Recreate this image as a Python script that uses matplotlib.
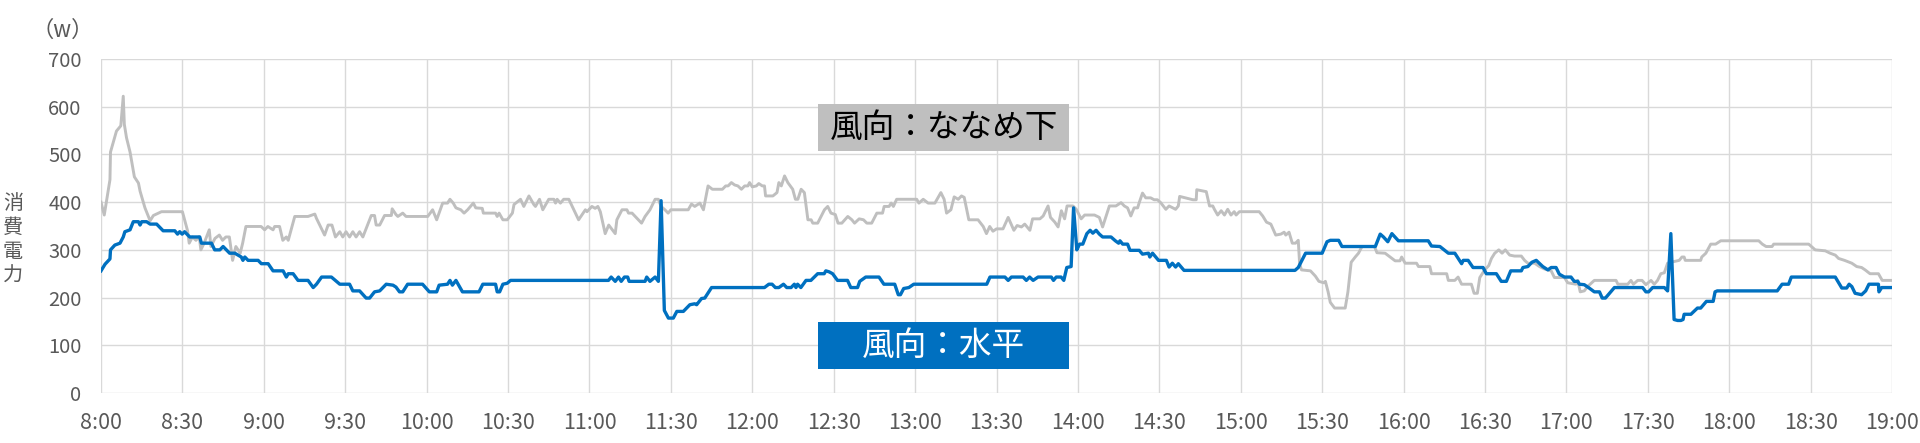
import matplotlib
matplotlib.use("Agg")
import matplotlib.pyplot as plt
from matplotlib.patches import Rectangle

plt.rcParams['font.family'] = ['Noto Sans CJK JP', 'DejaVu Sans']

# minutes after 8:00, power (W)
gray_t = [0, 1.2, 3.3, 3.5, 5.7, 7.3, 8.2, 8.6, 9.4, 10.7, 12.3, 13.8, 14.4, 16.2, 18.1, 19.3, 22.3, 30,
          31.9, 32.5, 33.7, 35, 36.2, 36.8, 38, 39.9, 40.5, 42, 43.6, 44.8, 46, 47.3, 48.5, 49.7, 51.3,
          52.2, 53.4, 59, 60.3, 61.5, 63.4, 64, 65.8, 67, 68.3, 69, 71.4, 76.3, 78.8, 79.4, 82.4, 83.7,
          85.1, 86.4, 88, 89.1, 90.3, 91.6, 92.8, 94, 95.3, 96.5, 99.6, 100.8, 101.4, 102.7, 104.5, 107,
          107.3,
          108.7, 109.4, 111.2, 112.4, 120.4, 122.2, 123.7, 125.9, 127.7, 128.6, 129.8, 130.8, 132.6, 133.8,
          135.1, 137.2, 138.1, 140.5, 140.9, 145.4, 146, 146.7, 148.1, 149.7, 151.6, 152.2, 154.6, 155.8,
          157.7, 159.5, 160.1, 161.6, 162.8, 165, 166.9, 167.5, 168.1, 169.3, 170.5, 172.4, 176, 178.5,
          179.1, 180.9, 182.1, 183.1, 184, 185.8, 187.1, 189.5, 190.1, 192, 193.8, 194.4, 195.7, 199.2,
          200.5, 202.3, 204.2, 205.4, 206.4, 207.8, 209, 210, 216.4, 217.6, 218.8,
          220.7, 222, 223.7, 225.3, 229, 230.2, 231.1, 232.3, 233.5, 234.7, 236, 237.2, 238.4, 239, 240,
          241.5, 242.4, 243.7, 244.5, 244.9, 247.6, 249.1, 249.8, 250.7, 251.9, 253.1, 254.9, 255.9, 256.8,
          258, 259.2, 260.5, 261.7, 262.3, 264.1, 266.6, 267.8, 269, 270.6, 271.6, 273, 275.2, 276.7,
          277.7, 279.4, 281, 282.2, 284, 285.9, 288, 288.6, 290.4, 291.2, 292, 293.2, 298.7, 300.6, 301.4,
          303, 304.8, 307.3, 309.5, 310.7, 311.6, 313.2, 314.4, 315.9, 317.1, 318.1, 319.8, 323.2, 325.1,
          326.3, 327.5, 328.7,
          330, 332.4, 334.3, 336.4, 337.6, 339.2, 340.4, 342.3, 343.3, 346, 347.2, 349, 349.9, 351.5,
          352.7, 353.9, 355.1, 356, 358.2, 359.4, 361.2, 362.5, 366.1, 367.9, 369.1, 370.4, 371.6, 374,
          375.9, 377.1, 378.3, 379.5, 380.7, 382, 382.6, 383.8, 385, 386.8, 388.1, 389.3, 390.5, 392.4,
          393.6, 396, 397, 397.5, 402.4, 403.6, 403.8, 407.3, 408.5, 409.7, 410.3, 411.5, 412.8, 414,
          415.2, 416.4, 417.6, 418.3, 419.5, 426.8, 428.1, 429.5, 431.1, 432.9, 434.8, 436, 436.6, 437.8,
          439,
          440.2, 441.2, 441.7, 442.4, 445.7, 447.5, 448.8, 450.6, 451.2, 452.2, 453, 454.6, 458.5, 459.5,
          460.7, 462.2, 463.4, 464.7, 469.3, 470.2, 473.2, 475.7, 476.9, 478.7, 479.3, 480.6, 484.8, 485.5,
          489.7, 490.3, 495.9, 496.5, 498.9, 500.1, 501.4, 505, 506, 507.2, 508.1, 509.9, 511.4, 512.4,
          513.6, 515.1, 516.3, 517.5, 519.1, 520.9, 523.4, 524.6, 525.8, 528.3, 530.1, 531.9, 534.4, 535.6,
          539.3, 540.5, 543.5, 544.2, 545.1, 546.6, 547.8, 550.3,
          552, 558.3, 559, 562.6, 563.8, 564.7, 566.3, 567.9, 569.3, 571.2, 572.4, 573.6, 574.8, 576.1,
          577.3, 578.5, 581.6, 582.6, 583.4, 583.8, 589.5, 589.9, 591.4, 593.2, 595, 596.9, 610.9, 612.2,
          613.6, 615.8, 616.4, 629.3, 631.7, 635.4, 637.2, 639.1, 640.3, 642.5, 645.2, 647, 648.8, 650.1,
          651.9, 655, 656.4, 660]
gray_w = [400, 373, 447, 505, 549, 560, 622, 563, 535, 505, 453, 440, 423, 388, 361, 372, 380, 380,
          340, 314, 327, 320, 328, 300, 314, 342, 307, 324, 331, 320, 327, 327, 278, 307, 293,
          314, 349, 349, 342, 349, 342, 349, 349, 320, 327, 320, 370, 370, 375, 366, 331, 352,
          352, 327, 338, 327, 338, 327, 338, 327, 338, 327, 372, 372, 352, 352, 372, 372,
          386,
          374, 370, 377, 370, 370, 384, 363, 398, 398, 406, 398, 388, 384, 377,
          384, 398, 388, 387, 377, 377, 370, 377, 363, 363, 377, 395, 406, 391,
          413, 395, 391, 406, 384, 406, 406, 398, 406, 398, 406, 406, 363, 384,
          380, 391, 387, 391, 380, 334, 352, 334, 363, 384, 384, 377, 377, 356,
          370, 384, 406, 406, 391, 384, 377, 384, 384, 396, 391,
          398, 384, 434, 427, 427, 434, 434, 441, 436, 434, 427, 434, 434, 441, 432,
          434, 439, 434, 434, 413, 413, 420, 441, 434, 455, 441, 427, 406, 406,
          427, 420, 363, 363, 356, 356, 384, 391, 377, 374, 356, 356, 370, 363,
          356, 365, 363, 356, 356, 377, 377, 391, 391, 398, 391, 406, 406, 406, 398,
          406, 398, 398, 420, 406, 377, 384, 411, 406, 413, 410, 363, 363, 349,
          334, 349, 339,
          344, 344, 368, 341, 351, 348, 354, 341, 365, 365, 371, 392, 368, 358,
          348, 382, 365, 392, 392, 385, 365, 373, 373, 368, 348, 371, 392, 392,
          399, 392, 388, 371, 388, 388, 399, 419, 409, 409, 405, 405, 399, 385,
          392, 385, 392, 412, 405, 405, 426, 422, 392, 392, 385, 373, 382, 373,
          385, 373, 380, 373, 380, 380, 371, 358, 354, 331, 333, 337, 331, 337,
          314,
          314, 320, 271, 258, 256, 245, 234, 231, 234, 212, 190, 178, 178, 212,
          274, 285, 293, 307, 307, 294, 293, 282, 277, 277, 285, 272, 272, 265,
          265, 250, 250, 236, 236, 243, 228, 228, 209, 209, 242, 258, 267, 282,
          293, 300, 293, 300, 289, 287, 287, 278, 272, 272, 265, 260, 256, 242,
          242, 231, 228, 236, 212, 214, 223, 236,
          236, 236, 228, 228, 236, 228, 236, 236, 227, 236, 228, 236, 250, 252,
          272, 274, 278, 285, 285, 278, 278, 285, 293, 312, 312, 319, 319, 312,
          307, 307, 312, 312, 300, 298, 293, 289, 282, 278, 272, 265, 263, 258,
          250, 250, 236, 236]

blue_t = [0, 1.5, 3.3, 3.5, 5.1, 7, 8.2, 8.8, 10.7, 11.9, 13.8, 14.4, 15, 16.8, 18.1, 20.5, 22.9, 27.2,
          28.2, 29, 29.9, 30.8, 32.7, 36.4, 37, 40.7, 41.9, 43.8, 45, 46.2, 47.4, 49.3, 51.7, 52.3, 53,
          54.2, 57.9, 59.1, 61.6, 63.4, 67.1, 68.3, 69, 70.8, 72.6, 76.3, 78.2, 79.4, 81.3, 84.9, 88,
          91.6, 92.8, 95.3, 97.7, 99, 100.8, 102.7, 105.1, 107.6,
          108.7, 110, 111.2, 113, 118.5, 121, 123.7, 124.6, 127.7, 128.6, 129.5, 130.8, 133.2, 139.3,
          140.7, 145.4, 146, 146.9, 148.1, 149.7, 150.9, 187, 188, 189.5, 190.7, 191.7, 192.9, 194.1,
          194.6, 200.5, 201.1, 202.3, 204.2, 205.4, 206.4, 207.6, 209.1, 210.9, 212.2, 214.6, 217, 218.8,
          219.5, 221.3, 222.5, 225, 244.5, 246.1, 247.3, 248.5, 249.8, 251.5, 252.7, 254.3, 255.5, 256.1,
          256.7, 257.9, 259.8, 261.6, 264.1, 266.5, 267.1, 268.3, 269.6, 271.4, 275.1, 276.3, 278.8,
          279.6, 281.8, 286.7, 288.5, 292.5, 293.8, 294.6, 295.8, 297.7, 299.5, 326.4, 327.6, 329.5,
          333.1, 334.3, 335.5, 339.8, 341, 342.2, 343.5, 345.3, 350.2, 351, 352, 353.8, 354.8, 355.9,
          357.5, 358.4, 359.6, 360.6, 361.8, 363.3, 364.5, 365.5, 366.7, 367.9, 369.1, 372.2, 373.8, 375,
          375.5, 376.5, 378.3, 379.2, 382.6, 383.8, 386, 386.5, 387.5, 389.7, 392.6, 393.6, 394.8, 396,
          397, 399.1, 440,
          441.2, 443.9, 450, 451.8, 453, 456.1, 457.3, 469.6, 471.4, 472.6, 474.2, 475.7, 478.1, 489.1,
          490.3, 493.4, 496.5, 498.9, 501.4, 502, 503.8, 505.6, 509.3, 510.5, 514.2, 516, 517.9, 519.5,
          523.4, 524, 525.8, 527.3, 528.9, 531.3, 533.2, 534.4, 536.2, 537.4, 539.3, 541.7, 542.9, 544.2,
          544.8, 546.6, 548.4, 550.3,
          552.2, 553.2, 554.4, 557.7, 568.1, 569.3, 570.3, 571.8, 576.1, 577.3, 578.5, 579.7, 581, 582.2,
          583, 583.4, 585.9, 588.3, 589.5, 591.6, 594.1, 594.8, 595.6, 617.7, 619.5, 621.9, 622.9, 639.1,
          641.5, 643.3, 644.2, 645.2, 646.4, 648.8, 650.3, 651.5, 655, 655.2, 656.2, 660]
blue_w = [256, 270, 281, 300, 310, 314, 327, 338, 342, 359, 359, 352, 359, 359, 354, 354, 340, 340,
          333, 338, 333, 338, 327, 327, 314, 314, 300, 300, 307, 300, 293, 293, 285, 278, 285,
          278, 278, 271, 271, 256, 256, 243, 250, 250, 236, 236, 221, 228, 243, 243, 228,
          228, 214, 214, 199, 199, 212, 214, 228, 226,
          222, 212, 212, 228, 228, 212, 212, 226, 228, 236, 226, 236, 212, 212,
          228, 228, 212, 212, 228, 230, 236, 236, 243, 234, 243, 234, 243, 243,
          234, 234, 243, 234, 243, 234, 403, 173, 157, 157, 171, 171, 185, 187,
          185, 198, 199, 221, 221, 228, 228, 221, 221, 228, 221, 221, 228, 221,
          228, 221, 236, 236, 250, 250, 256, 254, 250, 236, 236, 221, 221,
          234, 243, 243, 228, 228, 206, 206, 219, 221, 228, 228, 243, 243,
          243, 236, 243, 243, 236, 243, 236, 243, 243, 236, 243, 243, 236, 263,
          265, 388, 300, 312, 312, 334, 341, 335, 341, 333, 327, 327, 319, 314,
          319, 312, 312, 299, 299, 291, 293, 285, 293, 278, 278, 264, 272, 264,
          271, 257, 257,
          263, 293, 293, 317, 320, 320, 307, 307, 333, 327, 317, 334, 319, 319,
          308, 307, 293, 293, 271, 278, 278, 263, 263, 250, 250, 234, 234, 256,
          256, 263, 265, 274, 278, 265, 258, 263, 263, 249, 243, 243, 234, 234,
          228, 227, 220, 212,
          212, 199, 199, 221, 221, 212, 212, 221, 221, 214, 334, 154, 152, 152,
          154, 165, 165, 178, 178, 192, 192, 212, 214, 214, 228, 228, 243, 243,
          220, 220, 228, 223, 209, 206, 214, 228, 228, 212, 221, 221]

tick_pos = list(range(0, 661, 30))
tick_lbl = ['8:00', '8:30', '9:00', '9:30', '10:00', '10:30', '11:00', '11:30', '12:00', '12:30',
            '13:00', '13:30', '14:00', '14:30', '15:00', '15:30', '16:00', '16:30', '17:00', '17:30',
            '18:00', '18:30', '19:00']
y_ticks = [0, 100, 200, 300, 400, 500, 600, 700]

fig = plt.figure(figsize=(19.2, 4.43), dpi=100)
ax = fig.add_axes([101 / 1920, 50 / 443, 1791 / 1920, 334 / 443])

ax.plot(gray_t, gray_w, color='#BFBFBF', lw=2.1, zorder=3)
ax.plot(blue_t, blue_w, color='#0070C0', lw=2.4, zorder=4)

ax.set_xlim(0, 660)
ax.set_ylim(0, 700)
ax.set_xticks(tick_pos)
ax.set_xticklabels(tick_lbl)
ax.set_yticks(y_ticks)
ax.grid(True, color='#D9D9D9', lw=1.0, zorder=0)
ax.set_axisbelow(True)
for s in ax.spines.values():
    s.set_visible(False)
ax.tick_params(length=0, labelcolor='#595959')
ax.tick_params(axis='x', pad=14, labelsize=15.5)
ax.tick_params(axis='y', pad=14, labelsize=14.5)

# label boxes
ax.add_patch(Rectangle((264.2, 507), 92.5, 99, facecolor='#BFBFBF', edgecolor='none', zorder=5))
ax.text(310.5, 556, '風向：ななめ下', ha='center', va='center', fontsize=23.5, color='black', zorder=6)
ax.add_patch(Rectangle((264.2, 50), 92.5, 99, facecolor='#0070C0', edgecolor='none', zorder=5))
ax.text(310.5, 99.5, '風向：水平', ha='center', va='center', fontsize=23.5, color='white', zorder=6)

fig.text(63 / 1920, 1 - 30 / 443, '（w）', ha='center', va='center', fontsize=16, color='#595959')
fig.text(13 / 1920, 1 - 240 / 443, '消\n費\n電\n力', ha='center', va='center', fontsize=14.5,
         color='#595959', linespacing=1.2)

fig.savefig('out.png', dpi=100)
